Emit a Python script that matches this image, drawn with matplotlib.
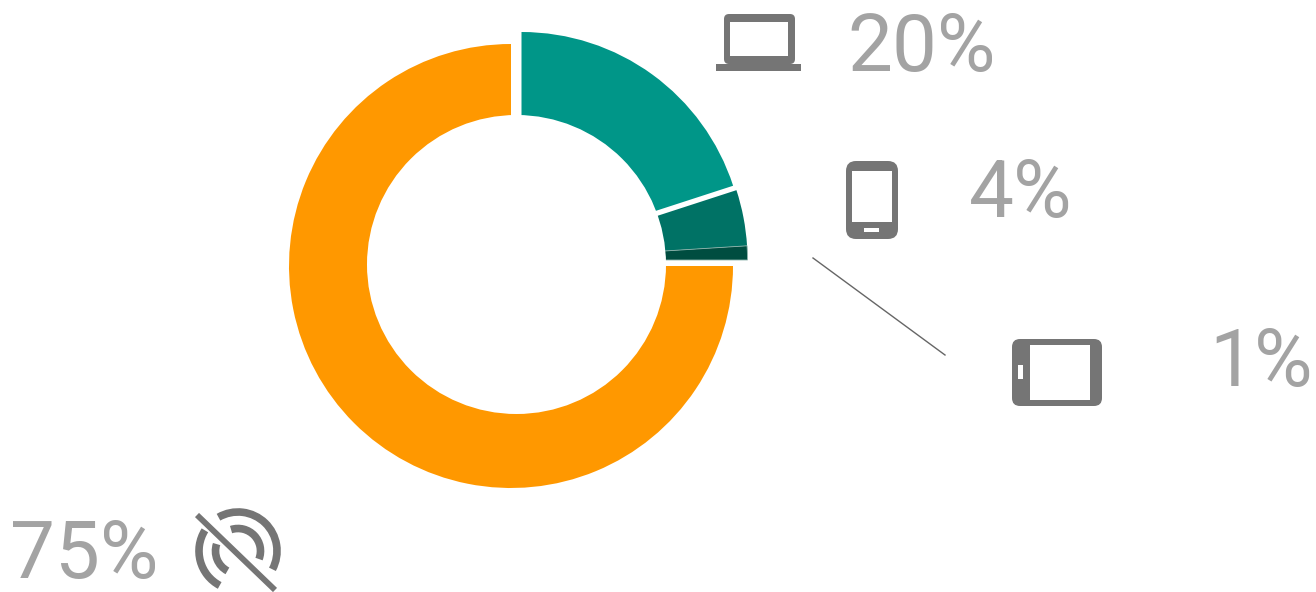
import matplotlib
matplotlib.use("Agg")
import matplotlib.pyplot as plt
from matplotlib.patches import Arc, Circle, FancyBboxPatch, Rectangle

plt.rcParams['font.family'] = ['Roboto', 'DejaVu Sans']

### Data ###
devices = ['Laptop', 'Phone', 'Tablet', 'Offline']
shares = [20, 4, 1, 75]
share_labels = ['20%', '4%', '1%', '75%']

### Styles ###
colors = ['#009688', '#007265', '#004D40', '#FF9800']
icon_color = '#757575'
text_color = '#A3A3A3'
H = 592


def Y(y):
    # reference pixels are measured from the top
    return H - y


def box(ax, x0, y0, x1, y1, color, rad=0):
    if rad:
        p = FancyBboxPatch((x0 + rad, Y(y1) + rad), x1 - x0 - 2 * rad, y1 - y0 - 2 * rad,
                           boxstyle=f"round,pad={rad},rounding_size={rad}",
                           fc=color, ec='none', zorder=5)
    else:
        p = Rectangle((x0, Y(y1)), x1 - x0, y1 - y0, fc=color, ec='none', zorder=5)
    ax.add_patch(p)


fig = plt.figure(figsize=(13.16, 5.92), dpi=100)
ax = fig.add_axes([0, 0, 1, 1])

### Donut, every slice has its own offset and radius ###
wedges, _ = ax.pie(shares, colors=colors, startangle=90, counterclock=False,
                   wedgeprops={'linewidth': 0})
centers = [(521.5, 254.5), (521.5, 260), (521.5, 260), (511, 266)]
radii = [222.5, 226, 226, 222]
for w, c, r in zip(wedges, centers, radii):
    w.set_center((c[0], Y(c[1])))
    w.set_radius(r)
wedges[2].set(edgecolor='#8fb5ad', linewidth=0.6)
ax.add_patch(Circle((516.5, Y(264.5)), 149.5, fc='white', ec='none', zorder=3))

ax.set_xlim(0, 1316)
ax.set_ylim(0, H)
ax.axis('off')

### Leader line ###
ax.plot([813, 945], [Y(258), Y(355)], color='#666666', lw=1.0)

### Labels ###
label_x = [847, 969, 1209, 10]
label_y = [71, 217, 386, 578]
for s, x, y in zip(share_labels, label_x, label_y):
    ax.text(x, Y(y), s, fontsize=57.6, color=text_color, weight=400, ha='left', va='baseline')

### Icons ###
# laptop
box(ax, 724, 14, 795, 64, icon_color, rad=5)
box(ax, 730, 22, 788, 56, 'white')
box(ax, 716, 64, 801, 71, icon_color)
# phone
box(ax, 846, 161, 898, 239, icon_color, rad=10)
box(ax, 852, 171, 892, 222, 'white')
box(ax, 864, 228, 879, 232, 'white')
# tablet
box(ax, 1012, 339, 1102, 406, icon_color, rad=8)
box(ax, 1030, 345, 1090, 400, 'white')
box(ax, 1018, 365, 1023, 379, 'white')
# wifi off
cx, cy = 238, 551
for d, a0, a1 in [(78, -28, 120), (45, -21, 108), (78, 148, 242), (45, 162, 242)]:
    ax.add_patch(Arc((cx, Y(cy)), d, d, theta1=a0, theta2=a1, color=icon_color, lw=5.5, zorder=5))
ax.plot([197, 275], [Y(515), Y(590)], color=icon_color, lw=4.2, solid_capstyle='butt', zorder=6)

fig.savefig("out.png", dpi=100)
